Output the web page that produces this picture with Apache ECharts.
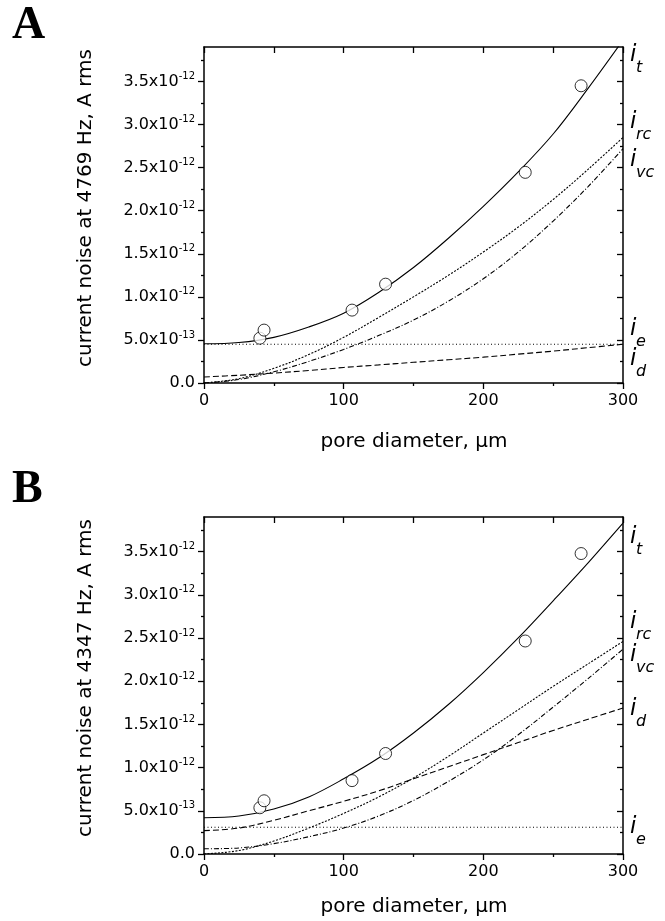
<!DOCTYPE html>
<html><head><meta charset="utf-8">
<script src="https://cdn.jsdelivr.net/npm/echarts@6/dist/echarts.min.js"></script>
<style>html,body{margin:0;padding:0;background:#fff}#c{width:665px;height:921px}</style>
</head><body><div id="c"></div>
<script>
// ---- data (current noise in units of 1e-12 A rms) ----
const xCurve = [0, 25, 50, 75, 100, 125, 150, 175, 200, 225, 250, 275, 300];
const xEnds = [0, 300];
const xPoints = [40, 43, 106, 130, 230, 270];

const A_points = [0.52, 0.614, 0.846, 1.147, 2.445, 3.45];
const A_it  = [0.455, 0.47, 0.53, 0.65, 0.81, 1.05, 1.34, 1.68, 2.05, 2.45, 2.89, 3.42, 3.98];
const A_irc = [0, 0.05, 0.17, 0.33, 0.53, 0.76, 1.00, 1.25, 1.52, 1.81, 2.13, 2.48, 2.85];
const A_ivc = [0, 0.04, 0.13, 0.25, 0.39, 0.55, 0.73, 0.95, 1.21, 1.52, 1.88, 2.28, 2.72];
const A_id  = [0.07, 0.09, 0.115, 0.145, 0.18, 0.21, 0.24, 0.27, 0.30, 0.335, 0.37, 0.41, 0.45];
const A_ie  = [0.45, 0.45];

const B_points = [0.535, 0.616, 0.849, 1.163, 2.465, 3.477];
const B_it  = [0.42, 0.44, 0.52, 0.66, 0.87, 1.11, 1.40, 1.73, 2.10, 2.50, 2.93, 3.37, 3.83];
const B_irc = [0, 0.04, 0.15, 0.30, 0.47, 0.66, 0.88, 1.13, 1.40, 1.67, 1.94, 2.20, 2.46];
const B_ivc = [0.06, 0.07, 0.12, 0.20, 0.30, 0.44, 0.62, 0.84, 1.09, 1.38, 1.70, 2.03, 2.37];
const B_id  = [0.27, 0.30, 0.39, 0.50, 0.61, 0.73, 0.87, 1.01, 1.15, 1.29, 1.43, 1.56, 1.69];
const B_ie  = [0.31, 0.31];

const yMajor = [0, 0.5, 1, 1.5, 2, 2.5, 3, 3.5];
const yMinor = [0.25, 0.75, 1.25, 1.75, 2.25, 2.75, 3.25, 3.75];
const panelLetters = ['A', 'B'];
const yTitles = ['current noise at 4769 Hz, A rms', 'current noise at 4347 Hz, A rms'];
const xTitle = 'pore diameter, \u03bcm';
const curveSubs = ['t', 'rc', 'vc', 'e', 'd'];

// ---- layout ----
const SANS = '"DejaVu Sans"';
const panels = [
  { top: 47, height: 336, it: A_it, irc: A_irc, ivc: A_ivc, id: A_id, ie: A_ie, pts: A_points,
    labelBase: { t: 63, rc: 130, vc: 168, e: 337, d: 367 }, titleY: 208, xTitleY: 442, letterY: 26 },
  { top: 517, height: 337, it: B_it, irc: B_irc, ivc: B_ivc, id: B_id, ie: B_ie, pts: B_points,
    labelBase: { t: 545, rc: 630, vc: 663, e: 835, d: 717 }, titleY: 678, xTitleY: 907, letterY: 490 }
];
const LEFT = 204, RIGHT = 42, YMAX = 3.9;

function zip(xs, ys) { return xs.map((x, i) => [x, ys[i]]); }
function fmtY(v) {
  if (Math.abs(v) < 1e-9) return '0.0';
  if (v < 1) return (v * 10).toFixed(1) + 'x10{s|-13}';
  return v.toFixed(1) + 'x10{s|-12}';
}

const grid = [], xAxis = [], yAxis = [], series = [], graphic = [];
const black = '#000';
panels.forEach((p, k) => {
  const gMain = grid.length;
  grid.push({ left: LEFT, right: RIGHT, top: p.top, height: p.height, containLabel: false });
  const gMinor = grid.length;
  grid.push({ left: LEFT, right: RIGHT, top: p.top, height: p.height, containLabel: false });

  const axLine = { show: true, onZero: false, lineStyle: { color: black, width: 1.5 } };
  const noLine = { show: false, onZero: false };
  const tickStyle = { color: black, width: 1.3 };
  // main grid x axes
  const xb = xAxis.length;
  xAxis.push({ gridIndex: gMain, type: 'value', position: 'bottom', min: 0, max: 300, interval: 100,
    axisLine: axLine, splitLine: { show: false },
    axisTick: { show: true, inside: false, length: 6, lineStyle: tickStyle },
    minorTick: { show: true, splitNumber: 2, length: 3, lineStyle: tickStyle },
    axisLabel: { show: true, color: black, fontFamily: SANS, fontSize: 16, margin: 10 } });
  xAxis.push({ gridIndex: gMain, type: 'value', position: 'top', min: 0, max: 300, interval: 100,
    axisLine: axLine, splitLine: { show: false },
    axisTick: { show: true, inside: true, length: 6, lineStyle: tickStyle },
    minorTick: { show: true, splitNumber: 2, length: 6, lineStyle: tickStyle },
    axisLabel: { show: false } });
  // main grid y axes
  const yl = yAxis.length;
  yAxis.push({ gridIndex: gMain, type: 'value', position: 'left', min: 0, max: YMAX,
    axisLine: axLine, splitLine: { show: false },
    axisTick: { show: true, inside: false, length: 6, customValues: yMajor, lineStyle: tickStyle },
    axisLabel: { show: true, customValues: yMajor, formatter: fmtY, color: black, fontFamily: SANS,
      fontSize: 16, lineHeight: 20, margin: 9,
      rich: { s: { fontSize: 10, lineHeight: 12, verticalAlign: 'top', fontFamily: SANS, color: black } } } });
  yAxis.push({ gridIndex: gMain, type: 'value', position: 'right', min: 0, max: YMAX,
    axisLine: axLine, splitLine: { show: false },
    axisTick: { show: true, inside: true, length: 6, customValues: yMajor, lineStyle: tickStyle },
    axisLabel: { show: false } });
  // minor grid axes (only minor ticks)
  xAxis.push({ gridIndex: gMinor, type: 'value', min: 0, max: 300, show: false, axisLine: noLine });
  yAxis.push({ gridIndex: gMinor, type: 'value', position: 'left', min: 0, max: YMAX,
    axisLine: noLine, splitLine: { show: false },
    axisTick: { show: true, inside: false, length: 3, customValues: yMinor, lineStyle: tickStyle },
    axisLabel: { show: false } });
  yAxis.push({ gridIndex: gMinor, type: 'value', position: 'right', min: 0, max: YMAX,
    axisLine: noLine, splitLine: { show: false },
    axisTick: { show: true, inside: true, length: 3, customValues: yMinor, lineStyle: tickStyle },
    axisLabel: { show: false } });

  const line = (name, xs, ys, type, smooth) => ({
    name, type: 'line', xAxisIndex: xb, yAxisIndex: yl, data: zip(xs, ys), smooth: smooth,
    showSymbol: false, symbol: 'none', clip: true, silent: true,
    lineStyle: { color: black, width: 1.1, type: type }
  });
  series.push(line('i_e', xEnds, p.ie, [1, 2.5], false));
  series.push(line('i_d', xCurve, p.id, [6, 3], 0.35));
  series.push(line('i_vc', xCurve, p.ivc, [5, 2, 1, 2], 0.35));
  series.push(line('i_rc', xCurve, p.irc, [2, 1.5], 0.35));
  series.push(line('i_t', xCurve, p.it, 'solid', 0.35));
  series.push({ name: 'measured', type: 'scatter', xAxisIndex: xb, yAxisIndex: yl, data: zip(xPoints, p.pts),
    symbol: 'circle', symbolSize: 12, z: 5, silent: true,
    itemStyle: { color: '#fff', borderColor: black, borderWidth: 1 } });

  // texts
  graphic.push({ type: 'text', x: 12, y: p.letterY, style: { text: panelLetters[k],
    font: 'bold 46px "Liberation Serif"', fill: black, textAlign: 'left', textVerticalAlign: 'middle', verticalAlign: 'middle' } });
  graphic.push({ type: 'text', x: 86, y: p.titleY, rotation: Math.PI / 2, style: { text: yTitles[k],
    font: '20px ' + SANS, fill: black, textAlign: 'center', align: 'center', textVerticalAlign: 'middle', verticalAlign: 'middle' } });
  graphic.push({ type: 'text', x: 414, y: p.xTitleY, style: { text: xTitle,
    font: '20px ' + SANS, fill: black, textAlign: 'center', align: 'center', textVerticalAlign: 'middle', verticalAlign: 'middle' } });
  curveSubs.forEach(sub => {
    const b = p.labelBase[sub];
    graphic.push({ type: 'text', x: 630, y: b - 7.6, style: { text: 'i',
      font: 'italic 23px ' + SANS, fill: black, textAlign: 'left', textVerticalAlign: 'middle', verticalAlign: 'middle' } });
    graphic.push({ type: 'text', x: 636, y: b + 10 - 5.5, style: { text: sub,
      font: 'italic 16px ' + SANS, fill: black, textAlign: 'left', textVerticalAlign: 'middle', verticalAlign: 'middle' } });
  });
});

const chart = echarts.init(document.getElementById('c'), null, { renderer: 'canvas' });
chart.setOption({ animation: false, backgroundColor: '#fff', grid, xAxis, yAxis, series, graphic });
</script></body></html>
